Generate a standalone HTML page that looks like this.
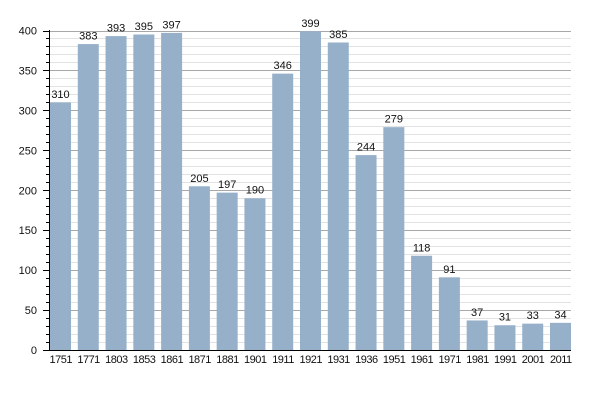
<!DOCTYPE html>
<html><head><meta charset="utf-8"><style>
html,body{margin:0;padding:0;background:#fff;}
svg{display:block;}
text{font-family:"Liberation Sans",Arial,sans-serif;font-size:11px;fill:#111;}
text.yr{font-size:11px;letter-spacing:-0.5px;}
</style></head><body>
<svg width="600" height="400" viewBox="0 0 600 400" xmlns="http://www.w3.org/2000/svg">
<g id="grid"></g>
<g id="bars"></g>
<g id="axis"></g>
</svg>
<script>
(function(){
var NS="http://www.w3.org/2000/svg";
function el(p,t,a,txt){var e=document.createElementNS(NS,t);for(var k in a)e.setAttribute(k,a[k]);if(txt!==undefined)e.textContent=txt;p.appendChild(e);return e;}
var grid=document.getElementById('grid'),bars=document.getElementById('bars'),axis=document.getElementById('axis');
var y0=350,y400=30.5,s=(y0-y400)/400;
function Y(v){return y0-v*s;}
for(var v=10;v<=400;v+=10){
 var y=Math.round(Y(v))+0.5;
 if(v%50==0){el(grid,'line',{x1:50,x2:571,y1:y,y2:y,stroke:'#a8a8a8','stroke-width':1});
  el(axis,'line',{x1:43,x2:50,y1:y,y2:y,stroke:'#000','stroke-width':1});
 } else {el(grid,'line',{x1:50,x2:571,y1:y,y2:y,stroke:'#e2e2e2','stroke-width':1});
  el(axis,'line',{x1:46,x2:50,y1:y,y2:y,stroke:'#000','stroke-width':1});}
}
for(var v=0;v<=400;v+=50){el(axis,'text',{x:37,y:Y(v)+4,'text-anchor':'end'},String(v));}
var years=["1751","1771","1803","1853","1861","1871","1881","1901","1911","1921","1931","1936","1951","1961","1971","1981","1991","2001","2011"];
var vals=[310,383,393,395,397,205,197,190,346,399,385,244,279,118,91,37,31,33,34];
var pitch=500/18;
for(var i=0;i<years.length;i++){
 var x=50+i*pitch,t=Y(vals[i]);
 el(bars,'rect',{x:x.toFixed(2),y:t.toFixed(2),width:21,height:(y0-t).toFixed(2),fill:'#97b0ca'});
 el(axis,'text',{x:(x+10.5).toFixed(2),y:(t-4.5).toFixed(2),'text-anchor':'middle'},String(vals[i]));
 el(axis,'text',{x:(x+10.8).toFixed(2),y:363,'text-anchor':'middle','class':'yr'},years[i]);
}
el(axis,'line',{x1:49.5,x2:49.5,y1:30,y2:350.5,stroke:'#000','stroke-width':1});
el(axis,'line',{x1:43,x2:571,y1:350.5,y2:350.5,stroke:'#000','stroke-width':1});
})();
</script>
</body></html>
